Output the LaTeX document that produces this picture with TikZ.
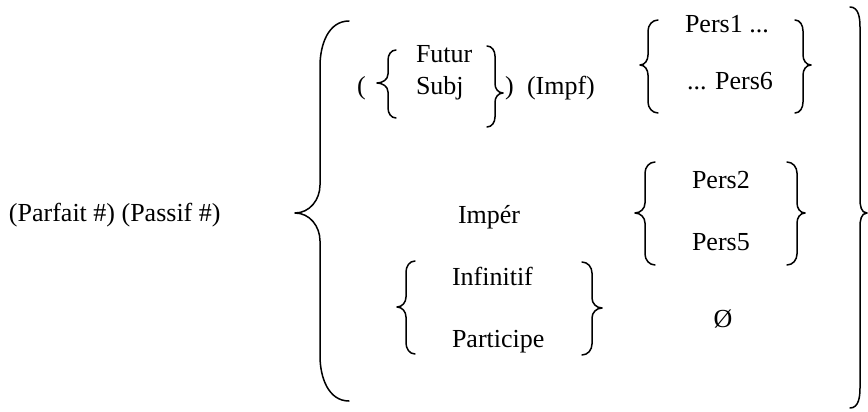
\documentclass[tikz,border=0pt]{standalone}
\usepackage{fontspec}
\setmainfont{Liberation Serif}
\newcommand\LBr[8]{% xe xv xt yt ym yb h k
  \draw[bracestyle] (#1,#4) to[out=180,in=90] (#2,{#4+#7}) -- (#2,{#5-#8})
    to[out=-90,in=0] (#3,#5) to[out=0,in=90] (#2,{#5+#8}) -- (#2,{#6-#7})
    to[out=-90,in=180] (#1,#6);}
\newcommand\RBr[8]{% xe xv xt yt ym yb h k
  \draw[bracestyle] (#1,#4) to[out=0,in=90] (#2,{#4+#7}) -- (#2,{#5-#8})
    to[out=-90,in=180] (#3,#5) to[out=180,in=90] (#2,{#5+#8}) -- (#2,{#6-#7})
    to[out=-90,in=0] (#1,#6);}
\begin{document}
\begin{tikzpicture}[x=1pt,y=-1pt,
  bracestyle/.style={line width=1.5pt,line cap=round,line join=round},
  lbl/.style={inner sep=0pt,outer sep=0pt,font=\fontsize{26}{30}\selectfont}]
\useasboundingbox (0,0) rectangle (868,412);
% texts
\node[lbl,anchor=base west] (pp) at (9,221) {(Parfait \#) (Passif \#)};
\node[lbl,anchor=base west] (po) at (357,95) {(};
\node[lbl,anchor=base west] (fu) at (416,63) {Futur};
\node[lbl,anchor=base west] (su) at (416,95) {Subj};
\node[lbl,anchor=base west] (pc) at (505,95) {)};
\node[lbl,anchor=base west] (im) at (527,95) {(Impf)};
\node[lbl,anchor=base west] (p1) at (685,33) {Pers1 ...};
\node[lbl,anchor=base west] (p6) at (687,90) {... Pers6};
\node[lbl,anchor=base west] (ip) at (458,223) {Impér};
\node[lbl,anchor=base west] (p2) at (692,188) {Pers2};
\node[lbl,anchor=base west] (p5) at (692,250) {Pers5};
\node[lbl,anchor=base west] (in) at (452,285) {Infinitif};
\node[lbl,anchor=base west] (pa) at (452,347) {Participe};
\node[lbl,anchor=base] (oe) at (723,327) {Ø};
% braces
\LBr{349}{320}{295}{21}{213}{401}{45}{28}
\RBr{850}{860}{867}{7}{213}{408}{20}{14}
\LBr{396}{388}{377}{50}{83}{118}{10}{9}
\RBr{487}{495}{503}{46}{93}{127}{10}{9}
\LBr{658}{648}{640}{20}{65}{113}{11}{10}
\RBr{795}{803}{811}{20}{65}{113}{11}{10}
\LBr{655}{645}{635}{162}{213}{265}{11}{10}
\RBr{787}{797}{805}{162}{213}{265}{11}{10}
\LBr{415}{406}{397}{261}{307}{354}{11}{10}
\RBr{582}{592}{602}{262}{308}{355}{11}{10}
\end{tikzpicture}
\end{document}
